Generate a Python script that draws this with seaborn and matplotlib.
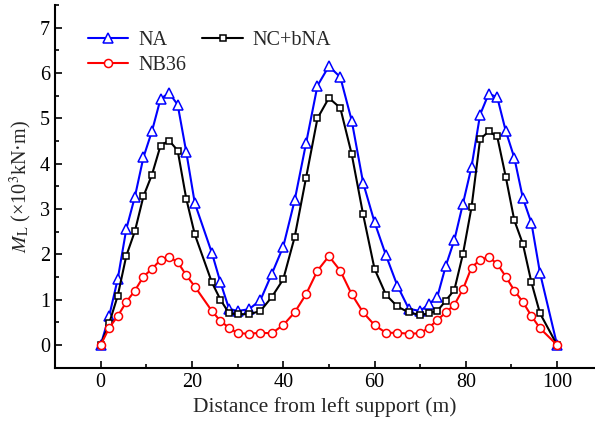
import matplotlib
matplotlib.use("Agg")
import matplotlib.pyplot as plt
from matplotlib.ticker import MultipleLocator
import seaborn as sns
import pandas as pd

distance = [0, 1.875, 3.75, 5.625, 7.5, 9.375, 11.25, 13.125, 15, 16.875, 18.75, 20.625,
            24.375, 26.25, 28.125, 30,
            32.5, 35, 37.5, 40, 42.5, 45, 47.5, 50, 52.5, 55, 57.5, 60, 62.5, 65, 67.5, 70,
            71.875, 73.75, 75.625, 77.5, 79.375, 81.25, 83.125, 85, 86.875, 88.75, 90.625,
            92.5, 94.375, 96.25, 100]

na = [0, 0.64, 1.46, 2.56, 3.27, 4.14, 4.72, 5.43, 5.56, 5.30, 4.26, 3.13, 2.03, 1.38, 0.80, 0.75,
      0.79, 0.99, 1.57, 2.17, 3.19, 4.45, 5.72, 6.15, 5.91, 4.95, 3.58, 2.71, 1.98, 1.31, 0.80, 0.75,
      0.90, 1.06, 1.75, 2.32, 3.12, 3.93, 5.08, 5.54, 5.47, 4.72, 4.13, 3.24, 2.69, 1.59, 0]

nc_bna = [0, 0.48, 1.09, 1.97, 2.51, 3.28, 3.76, 4.40, 4.51, 4.29, 3.23, 2.44, 1.38, 1.00, 0.70, 0.68,
          0.68, 0.75, 1.06, 1.45, 2.38, 3.69, 5.00, 5.45, 5.23, 4.21, 2.88, 1.68, 1.11, 0.85, 0.72, 0.66,
          0.70, 0.75, 0.98, 1.22, 2.01, 3.04, 4.54, 4.71, 4.60, 3.71, 2.75, 2.23, 1.38, 0.70, 0]

nb36 = [0, 0.38, 0.64, 0.95, 1.20, 1.51, 1.68, 1.88, 1.94, 1.83, 1.54, 1.29, 0.75, 0.53, 0.38, 0.26,
        0.25, 0.27, 0.26, 0.44, 0.72, 1.12, 1.64, 1.96, 1.64, 1.12, 0.72, 0.44, 0.27, 0.27, 0.25, 0.26,
        0.38, 0.55, 0.72, 0.89, 1.23, 1.71, 1.88, 1.94, 1.79, 1.51, 1.20, 0.95, 0.64, 0.37, 0]

series_names = ["NA", "NC+bNA", "NB36"]
x_ticks = [0, 20, 40, 60, 80, 100]
y_ticks = [0, 1, 2, 3, 4, 5, 6, 7]

sns.set_theme(style="ticks")
plt.rcParams["font.family"] = ["Liberation Serif", "DejaVu Serif"]
plt.rcParams["mathtext.fontset"] = "stix"

fig = plt.figure(figsize=(5.95, 4.21), dpi=100)
ax = fig.add_axes([55 / 595, 53.3 / 421, 540 / 595, 362.7 / 421])

styles = {
    "NA": dict(color="#0000FF", marker="^", markersize=6.5),
    "NC+bNA": dict(color="black", marker="s", markersize=5),
    "NB36": dict(color="#FF0000", marker="o", markersize=5.8),
}
values = {"NA": na, "NC+bNA": nc_bna, "NB36": nb36}

for name in series_names:
    df = pd.DataFrame({"x": distance, "y": values[name]})
    st = styles[name]
    sns.lineplot(data=df, x="x", y="y", ax=ax, sort=False, label=name,
                 color=st["color"], marker=st["marker"], markersize=st["markersize"],
                 markerfacecolor="white", markeredgecolor=st["color"],
                 markeredgewidth=1.1, linewidth=1.5)

ax.set_xlim(-10, 108.3)
ax.set_ylim(-0.5, 7.5)
ax.set_xticks(x_ticks)
ax.set_yticks(y_ticks)
ax.xaxis.set_minor_locator(MultipleLocator(10))
ax.yaxis.set_minor_locator(MultipleLocator(0.5))
ax.tick_params(which="both", direction="in", width=1.2, labelsize=14.5, colors="black")
ax.tick_params(which="major", length=5)
ax.tick_params(which="minor", length=3)
for s in ["top", "right"]:
    ax.spines[s].set_visible(False)
for s in ["left", "bottom"]:
    ax.spines[s].set_linewidth(1.5)
    ax.spines[s].set_color("black")

ax.set_xlabel("Distance from left support (m)", fontsize=15.5, labelpad=4)
ax.set_ylabel(r"$M_{\rm L}$ (×10$^3$kN·m)", fontsize=14.5, labelpad=4)

handles, labels = ax.get_legend_handles_labels()
order = [0, 2, 1]
ax.legend([handles[i] for i in order], [labels[i] for i in order], ncol=2,
          loc="upper left", bbox_to_anchor=(33 / 540, 1 - 26 / 362.7),
          frameon=False, fontsize=14.5, handlelength=2.0, handletextpad=0.5,
          columnspacing=0.8, labelspacing=0.3, borderpad=0, borderaxespad=0)

fig.savefig("out.png", dpi=100)
